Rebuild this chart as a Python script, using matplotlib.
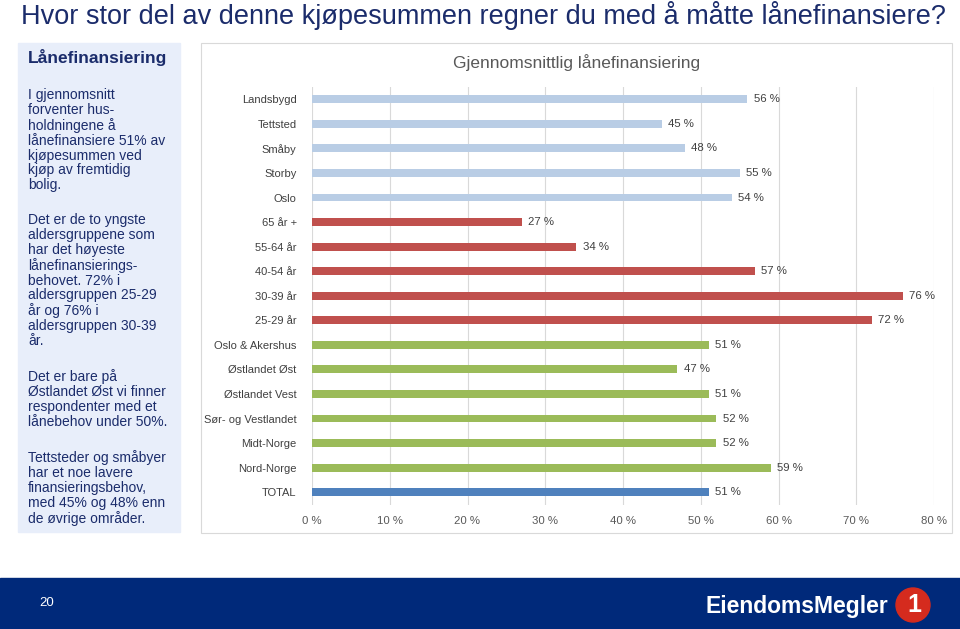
import matplotlib.pyplot as plt
from matplotlib.patches import Rectangle, Ellipse

# data
categories = ['Landsbygd', 'Tettsted', 'Småby', 'Storby', 'Oslo',
              '65 år +', '55-64 år', '40-54 år', '30-39 år', '25-29 år',
              'Oslo & Akershus', 'Østlandet Øst', 'Østlandet Vest',
              'Sør- og Vestlandet', 'Midt-Norge', 'Nord-Norge', 'TOTAL']
values = [56, 45, 48, 55, 54,
          27, 34, 57, 76, 72,
          51, 47, 51, 52, 52, 59,
          51]
groups = ['sted'] * 5 + ['alder'] * 5 + ['region'] * 6 + ['total']
group_colors = {'sted': '#b9cde5', 'alder': '#c0504d',
                'region': '#9bbb59', 'total': '#4f81bd'}
x_ticks = [0, 10, 20, 30, 40, 50, 60, 70, 80]

title = 'Hvor stor del av denne kjøpesummen regner du med å måtte lånefinansiere?'
chart_title = 'Gjennomsnittlig lånefinansiering'
side_title = 'Lånefinansiering'
side_text = [
    'I gjennomsnitt\nforventer hus-\nholdningene å\nlånefinansiere 51% av\nkjøpesummen ved\nkjøp av fremtidig\nbolig.',
    'Det er de to yngste\naldersgruppene som\nhar det høyeste\nlånefinansierings-\nbehovet. 72% i\naldersgruppen 25-29\når og 76% i\naldersgruppen 30-39\når.',
    'Det er bare på\nØstlandet Øst vi finner\nrespondenter med et\nlånebehov under 50%.',
    'Tettsteder og småbyer\nhar et noe lavere\nfinansieringsbehov,\nmed 45% og 48% enn\nde øvrige områder.',
]

W, H = 960, 629
fig = plt.figure(figsize=(W / 100, H / 100), dpi=100)
navy = '#1b2c6b'
sans = ['Liberation Sans', 'DejaVu Sans']


def fx(px):
    return px / W


def fy(py):
    return 1 - py / H


# slide title
fig.text(fx(21), fy(16), title, fontsize=19.5, color=navy, family=sans,
         va='center', ha='left')

# left text panel
fig.patches.append(Rectangle((fx(18), fy(532)), fx(180) - fx(18), fy(43) - fy(532),
                             transform=fig.transFigure, color='#e8eefa', zorder=0))
fig.text(fx(28), fy(57), side_title, fontsize=12.5, weight='bold', color=navy,
         family=sans, va='center')
para_y = [88, 213, 369, 450]
for yy, txt in zip(para_y, side_text):
    fig.text(fx(28), fy(yy), txt, fontsize=10, color=navy, family=sans,
             va='top', linespacing=1.08)

# chart frame
fig.patches.append(Rectangle((fx(201), fy(533)), fx(952) - fx(201), fy(43) - fy(533),
                             transform=fig.transFigure, facecolor='white',
                             edgecolor='#d9d9d9', lw=0.8, zorder=0))
fig.text(fx(577), fy(63), chart_title, fontsize=12.5, color='#595959',
         family=sans, ha='center', va='center')

ax = fig.add_axes([fx(312), fy(504.5), fx(934) - fx(312), fy(87) - fy(504.5)])
ax.set_zorder(3)
ypos = list(range(len(categories)))
colors = [group_colors[g] for g in groups]
ax.barh(ypos, values, height=0.32, color=colors, zorder=3)
for y, v in zip(ypos, values):
    ax.text(v + 0.8, y, f'{v} %', va='center', ha='left', fontsize=8.2,
            color='#404040', family=sans)
ax.set_xlim(0, 80)
ax.set_ylim(len(categories) - 0.5, -0.5)
ax.set_yticks(ypos)
ax.set_yticklabels(categories, family=sans, fontsize=8, color='#404040')
ax.set_xticks(x_ticks)
ax.set_xticklabels([f'{t} %' for t in x_ticks], family=sans, fontsize=8.2,
                   color='#595959')
ax.tick_params(axis='both', length=0)
ax.tick_params(axis='y', pad=11)
ax.tick_params(axis='x', pad=8)
ax.grid(axis='x', color='#d9d9d9', lw=0.8, zorder=0)
for s in ax.spines.values():
    s.set_visible(False)
ax.set_facecolor('none')

# footer
fig.patches.append(Rectangle((0, 0), 1, fy(578), transform=fig.transFigure,
                             color='#00297a', zorder=0))
fig.text(fx(47), fy(603), '20', color='white', fontsize=9.5, family=sans,
         ha='center', va='center')
fig.text(fx(888), fy(607), 'EiendomsMegler', color='white', fontsize=16.5,
         weight='bold', family=sans, ha='right', va='center')
fig.patches.append(Ellipse((fx(913), fy(605)), fx(34), 34 / H,
                           transform=fig.transFigure, color='#d52b1e', zorder=1))
fig.text(fx(914), fy(605), '1', color='white', fontsize=18, weight='bold',
         family=sans, ha='center', va='center', zorder=2)

fig.savefig('out.png', dpi=100)
